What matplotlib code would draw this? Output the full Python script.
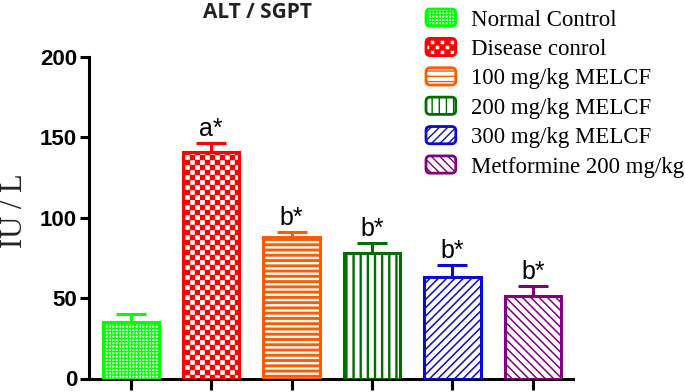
import warnings
warnings.filterwarnings("ignore")
import numpy as np
import matplotlib
matplotlib.use("Agg")
import matplotlib.pyplot as plt
import matplotlib.hatch as mhatch
from matplotlib.path import Path
from matplotlib.patches import FancyBboxPatch
from matplotlib.container import BarContainer
from matplotlib.legend_handler import HandlerPatch, update_from_first_child

# ---------------- data ----------------
groups = ["Normal Control", "Disease conrol", "100 mg/kg MELCF",
          "200 mg/kg MELCF", "300 mg/kg MELCF", "Metformine 200 mg/kg"]
means = [35.3, 141.0, 88.2, 77.9, 63.3, 51.5]
sems = [4.6, 5.6, 3.1, 6.6, 7.1, 6.0]
marks = ["", "a*", "b*", "b*", "b*", "b*"]
title = "ALT / SGPT"
ylabel = "IU / L"
yticks = [0, 50, 100, 150, 200]

colors = ["#00ff00", "#ff0000", "#ff5a00", "#006e00", "#0a0ad2", "#800080"]
hatches = ["+++++", "c" * 20, "h" * 19, "v" * 14, "////", "\\\\\\\\"]
hatch_lws = [0.9, 0.3, 2.1, 1.7, 1.1, 1.1]


# ---------------- custom hatches ----------------
class CheckerHatch(mhatch.HatchPatternBase):
    def __init__(self, hatch, density):
        n = hatch.count("c")
        if n % 2:
            n += 1
        self.n = n
        self.num_vertices = (n * n // 2) * 5

    def set_vertices_and_codes(self, vertices, codes):
        n = self.n
        s = 1.0 / n
        k = 0
        for i in range(n):
            for j in range(n):
                if (i + j) % 2 == 0:
                    x0, y0 = i * s, j * s
                    vertices[k:k + 5] = [(x0, y0), (x0 + s, y0), (x0 + s, y0 + s),
                                         (x0, y0 + s), (x0, y0)]
                    codes[k] = Path.MOVETO
                    codes[k + 1:k + 4] = Path.LINETO
                    codes[k + 4] = Path.CLOSEPOLY
                    k += 5


class HLineHatch(mhatch.HatchPatternBase):
    def __init__(self, hatch, density):
        self.n = hatch.count("h")
        self.num_vertices = self.n * 2

    def set_vertices_and_codes(self, vertices, codes):
        steps = (np.arange(self.n) + 0.5) / max(self.n, 1)
        vertices[0::2, 0] = 0.0
        vertices[0::2, 1] = steps
        vertices[1::2, 0] = 1.0
        vertices[1::2, 1] = steps
        codes[0::2] = Path.MOVETO
        codes[1::2] = Path.LINETO


class VLineHatch(mhatch.HatchPatternBase):
    def __init__(self, hatch, density):
        self.n = hatch.count("v")
        self.num_vertices = self.n * 2

    def set_vertices_and_codes(self, vertices, codes):
        steps = (np.arange(self.n) + 0.5) / max(self.n, 1)
        vertices[0::2, 0] = steps
        vertices[0::2, 1] = 0.0
        vertices[1::2, 0] = steps
        vertices[1::2, 1] = 1.0
        codes[0::2] = Path.MOVETO
        codes[1::2] = Path.LINETO


mhatch._hatch_types.extend([CheckerHatch, HLineHatch, VLineHatch])

# ---------------- figure ----------------
plt.rcParams["hatch.linewidth"] = 1.0
fig = plt.figure(figsize=(6.85, 3.92), dpi=100)
ax = fig.add_axes([89 / 685, 1 - 378.5 / 392, (573 - 89) / 685, (378.5 - 57) / 392])

x = np.arange(len(groups))
containers = []
for i in range(len(groups)):
    bc = ax.bar(x[i], means[i], width=0.7, facecolor="white", edgecolor=colors[i],
                linewidth=2.2, hatch=hatches[i], label=groups[i], zorder=3)
    for p in bc:
        if hasattr(p, "set_hatch_linewidth"):
            p.set_hatch_linewidth(hatch_lws[i])
    containers.append(bc)
    ax.errorbar(x[i], means[i], yerr=[[0], [sems[i]]], fmt="none", ecolor=colors[i],
                elinewidth=2.2, capsize=11, capthick=2.2, zorder=2)
    if marks[i]:
        ax.annotate(marks[i], xy=(x[i], means[i] + sems[i]), xytext=(0, 5),
                    textcoords="offset points", ha="center", va="baseline",
                    fontsize=18, family="Liberation Sans", color="black")

ax.set_xlim(-0.52, 5.5)
ax.set_ylim(0, 200)
ax.set_yticks(yticks)
ax.set_xticks(x)
ax.set_xticklabels([])
for s in ["top", "right"]:
    ax.spines[s].set_visible(False)
for s in ["left", "bottom"]:
    ax.spines[s].set_linewidth(2.2)
ax.tick_params(axis="y", length=6.5, width=2.2, pad=2)
ax.tick_params(axis="x", length=8, width=2.2)
for lab in ax.get_yticklabels():
    lab.set_fontfamily("Liberation Sans")
    lab.set_fontweight("bold")
    lab.set_fontsize(16)

fig.text(257 / 685, 1 - 13 / 392, title, ha="center", va="center",
         fontsize=15, fontweight="bold", family="Open Sans", color="#222222")
fig.text(14 / 685, 1 - 211 / 392, ylabel, ha="center", va="center", rotation=90,
         fontsize=22, family="Liberation Serif", color="#222222")


def round_patch(legend, orig_handle, xdescent, ydescent, width, height, fontsize):
    pad = 2
    return FancyBboxPatch((-xdescent + pad, -ydescent + pad), width - 2 * pad,
                          height - 2 * pad, boxstyle="round,pad=2,rounding_size=3",
                          mutation_aspect=1)


leg = fig.legend(handles=containers, labels=groups, loc="upper left",
                 bbox_to_anchor=(426 / 685, 1 - 9 / 392), frameon=False,
                 prop={"family": "Liberation Serif", "size": 16.5},
                 handlelength=1.3, handleheight=0.78, handletextpad=0.65,
                 labelspacing=0.34, borderpad=0, borderaxespad=0,
                 handler_map={BarContainer: HandlerPatch(patch_func=round_patch,
                                                         update_func=update_from_first_child)})
for h in leg.legend_handles:
    h.set_linewidth(2.0)

fig.savefig("out.png", dpi=100)
